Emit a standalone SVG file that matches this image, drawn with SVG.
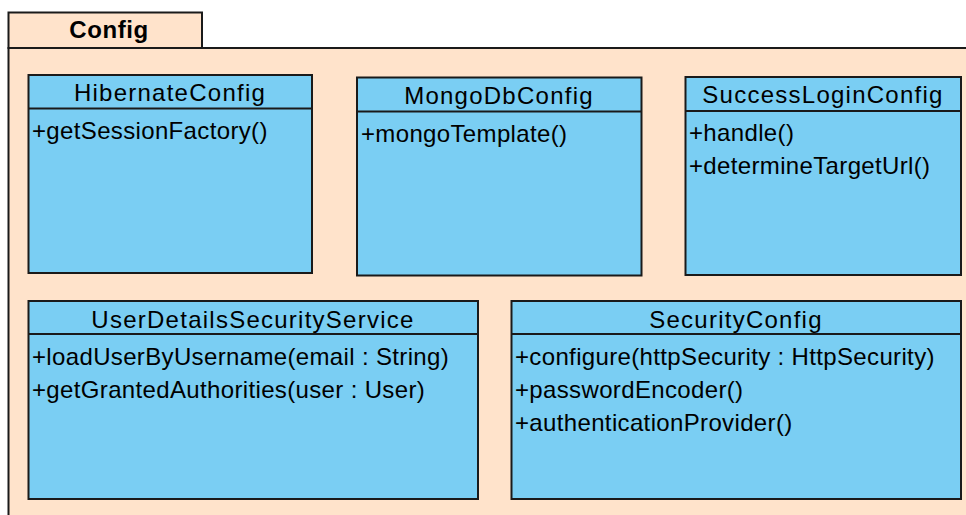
<svg xmlns="http://www.w3.org/2000/svg" width="966" height="515" viewBox="0 0 966 515">
<style>
.pkg{fill:#FFE3CB;stroke:#1a1a1a;stroke-width:2}
.cls{fill:#7ACEF3;stroke:#1a1a1a;stroke-width:2}
.ln{stroke:#1a1a1a;stroke-width:2}
.pt{font-family:"Liberation Sans",Arial,sans-serif;font-size:24px;font-weight:bold;fill:#000;text-anchor:middle;letter-spacing:0.6px}
.ct{font-family:"Liberation Sans",Arial,sans-serif;font-size:24px;fill:#000;text-anchor:middle;letter-spacing:1.25px}
.mt{font-family:"Liberation Sans",Arial,sans-serif;font-size:24px;fill:#000;letter-spacing:0.35px}
</style>
<rect width="966" height="515" fill="#fff"/>
<g id="package-Config">
<rect class="pkg" x="8.5" y="48" width="1000" height="500"/>
<rect class="pkg" x="8.5" y="12.5" width="193.5" height="35.5"/>
<text class="pt" x="109" y="38">Config</text>
</g>
<g id="HibernateConfig">
<rect class="cls" x="28.5" y="75" width="283.5" height="198"/>
<line class="ln" x1="28.5" y1="108.5" x2="312" y2="108.5"/>
<text class="ct" x="170" y="101">HibernateConfig</text>
<text class="mt" x="32" y="138.5">+getSessionFactory()</text>
</g>
<g id="MongoDbConfig">
<rect class="cls" x="357" y="77.5" width="284.5" height="198"/>
<line class="ln" x1="357" y1="111.5" x2="641.5" y2="111.5"/>
<text class="ct" x="499" y="103.5">MongoDbConfig</text>
<text class="mt" x="361" y="141.5">+mongoTemplate()</text>
</g>
<g id="SuccessLoginConfig">
<rect class="cls" x="685.5" y="77" width="275.5" height="198"/>
<line class="ln" x1="685.5" y1="111" x2="961" y2="111"/>
<text class="ct" x="823" y="103">SuccessLoginConfig</text>
<text class="mt" x="689" y="140.5">+handle()</text>
<text class="mt" x="689" y="173.5">+determineTargetUrl()</text>
</g>
<g id="UserDetailsSecurityService">
<rect class="cls" x="28.5" y="301" width="449.5" height="198"/>
<line class="ln" x1="28.5" y1="334" x2="478" y2="334"/>
<text class="ct" x="253" y="327.5">UserDetailsSecurityService</text>
<text class="mt" x="32" y="364.5">+loadUserByUsername(email : String)</text>
<text class="mt" x="32" y="397.5">+getGrantedAuthorities(user : User)</text>
</g>
<g id="SecurityConfig">
<rect class="cls" x="511.5" y="301" width="449.5" height="198"/>
<line class="ln" x1="511.5" y1="334" x2="961" y2="334"/>
<text class="ct" x="736" y="327.5">SecurityConfig</text>
<text class="mt" x="515" y="365">+configure(httpSecurity : HttpSecurity)</text>
<text class="mt" x="515" y="398">+passwordEncoder()</text>
<text class="mt" x="515" y="431">+authenticationProvider()</text>
</g>
<g id="connectors"></g>
</svg>
